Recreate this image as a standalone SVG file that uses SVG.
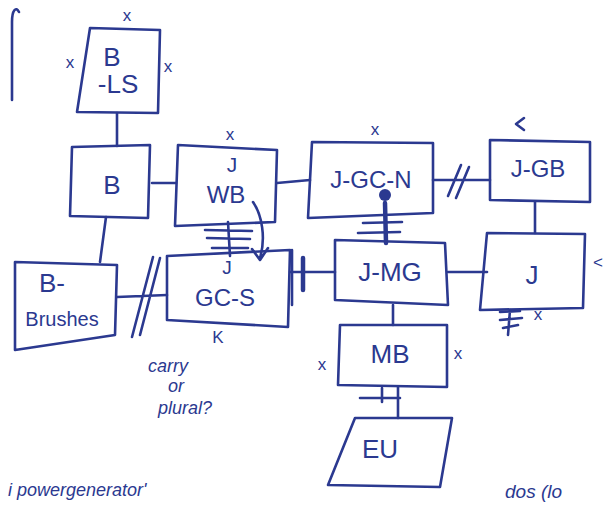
<svg xmlns="http://www.w3.org/2000/svg" width="608" height="505" viewBox="0 0 608 505">
<style>
.s{fill:none;stroke:#2b3990;stroke-width:2.6;stroke-linejoin:round;stroke-linecap:round}
.k{fill:none;stroke:#2b3990;stroke-width:4.5;stroke-linecap:round}
.t{font-family:"Liberation Sans",sans-serif;fill:#2b3990;text-anchor:middle;font-size:26px}
.sm{font-size:17px}
.h{font-family:"Liberation Sans",sans-serif;fill:#2b3990;font-style:italic;font-size:18px}
</style>
<rect width="608" height="505" fill="#ffffff"/>
<path class="s" d="M12,100 L12,22 C12,10 16,6 19,12"/>
<g id="connectors">
<path class="s" d="M117,113 L117,146"/>
<path class="s" d="M152,183 L176,183"/>
<path class="s" d="M277,183 L310,180"/>
<path class="s" d="M433,180 L490,180 M448,196 L461,165 M456,198 L469,167"/>
<path class="s" d="M535,202 L535,233"/>
<path class="s" d="M106,217 L100,262"/>
<path class="s" d="M117,297 L167,295 M153,257 L132,337 M160,258 L140,335"/>
<path class="s" d="M228,222 L230,256 M205,230 L252,231 M207,238 L250,239 M212,248 L248,248"/>
<path class="s" d="M253,202 C262,215 266,238 260,258 M252,249 L260,260 L268,248"/>
<path class="s" d="M290,272 L335,272 M292,250 L292,305"/>
<path class="k" d="M303,258 L303,290"/>
<circle cx="385" cy="195" r="6" fill="#2b3990"/>
<path class="k" d="M385,203 L386,243"/>
<path class="s" d="M363,223 L402,222 M358,233 L400,232"/>
<path class="s" d="M448,272 L487,272"/>
<path class="s" d="M393,305 L393,325"/>
<path class="s" d="M398,387 L398,418 M382,388 L382,402 M360,398 L400,398"/>
<path class="s" d="M510,310 L508,335 M500,312 L520,311 M500,320 L522,318 M503,328 L518,325"/>
</g>
<g id="B-LS">
<path class="s" d="M90,28 L160,30 L158,113 L77,112 Z"/>
<text class="t" x="112" y="66">B</text>
<text class="t" x="118" y="93">-LS</text>
<text class="t sm" x="127" y="21">x</text>
<text class="t sm" x="70" y="68">x</text>
<text class="t sm" x="168" y="72">x</text>
</g>
<g id="B">
<path class="s" d="M72,147 L150,145 L148,218 L70,216 Z"/>
<text class="t" x="112" y="194">B</text>
</g>
<g id="J-WB">
<path class="s" d="M178,145 L277,150 L275,222 L175,226 Z"/>
<text class="t" x="232" y="172" style="font-size:21px">J</text>
<text class="t" x="226" y="203" style="font-size:24px">WB</text>
<text class="t sm" x="230" y="140">x</text>
</g>
<g id="J-GC-N">
<path class="s" d="M312,142 L433,143 L433,213 L308,218 Z"/>
<text class="t" x="371" y="188" style="font-size:24px">J-GC-N</text>
<text class="t sm" x="375" y="135">x</text>
</g>
<g id="J-GB">
<path class="s" d="M490,140 L590,142 L590,202 L490,200 Z"/>
<text class="t" x="538" y="177" style="font-size:24px">J-GB</text>
<path class="s" d="M524,118 L516,124 L524,130"/>
</g>
<g id="B-Brushes">
<path class="s" d="M15,262 L117,265 L115,335 L15,350 Z"/>
<text class="t" x="52" y="292">B-</text>
<text class="t" x="62" y="326" style="font-size:20px">Brushes</text>
</g>
<g id="GC-S">
<path class="s" d="M167,256 L290,250 L288,327 L167,320 Z"/>
<text class="t" x="227" y="274" style="font-size:19px">J</text>
<text class="t" x="225" y="306" style="font-size:24px">GC-S</text>
<text class="t sm" x="218" y="343">K</text>
</g>
<g id="J-MG">
<path class="s" d="M335,240 L445,243 L448,305 L335,300 Z"/>
<text class="t" x="390" y="281">J-MG</text>
</g>
<g id="J">
<path class="s" d="M487,233 L585,234 L583,308 L480,310 Z"/>
<text class="t" x="532" y="284">J</text>
<text class="t sm" x="598" y="268">&lt;</text>
<text class="t sm" x="538" y="320">x</text>
</g>
<g id="MB">
<path class="s" d="M340,325 L447,325 L447,387 L338,385 Z"/>
<text class="t" x="390" y="363">MB</text>
<text class="t sm" x="322" y="370">x</text>
<text class="t sm" x="458" y="359">x</text>
</g>
<g id="EU">
<path class="s" d="M355,418 L452,418 L440,487 L328,485 Z"/>
<text class="t" x="380" y="458">EU</text>
</g>
<text class="h" x="148" y="372">carry</text>
<text class="h" x="168" y="392">or</text>
<text class="h" x="158" y="414">plural?</text>
<text class="h" x="8" y="496">i powergenerator'</text>
<text class="h" x="505" y="498" style="font-size:19px">dos (lo</text>
</svg>
